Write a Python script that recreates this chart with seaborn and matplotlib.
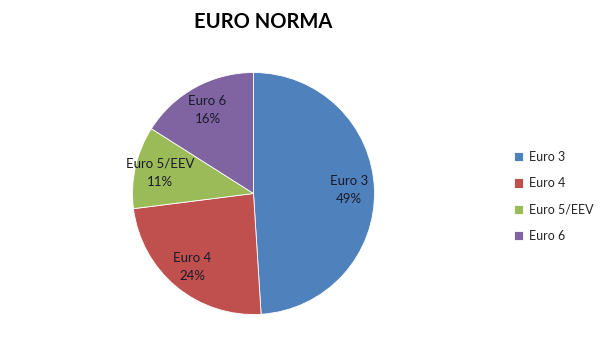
import matplotlib
matplotlib.use("Agg")
import matplotlib.pyplot as plt
import seaborn as sns
import numpy as np

categories = ["Euro 3", "Euro 4", "Euro 5/EEV", "Euro 6"]
values = [49, 24, 11, 16]
colors = ["#4F81BD", "#C0504D", "#9BBB59", "#8064A2"]
title = "EURO NORMA"

sns.set_theme(style="white")
plt.rcParams['font.family'] = ['Lato', 'DejaVu Sans']

fig = plt.figure(figsize=(6.0, 3.44), dpi=100)
W, H = 600, 344
cx, cy, r = 253.5, 193.5, 121
ax = fig.add_axes([(cx - r) / W, (H - cy - r) / H, 2 * r / W, 2 * r / H])

pal = sns.color_palette(colors)
wedges, texts = ax.pie(values, colors=pal, startangle=90, counterclock=False,
                       radius=1.0, wedgeprops=dict(edgecolor="white", linewidth=0.6))
for w, lab, v in zip(wedges, categories, values):
    ang = np.deg2rad((w.theta1 + w.theta2) / 2)
    d = 0.79
    ax.text(d * np.cos(ang), d * np.sin(ang), f"{lab}\n{v}%", ha="center", va="center",
            fontsize=9.5, color="#1a1a2a", linespacing=1.6)
ax.set_xlim(-1, 1)
ax.set_ylim(-1, 1)
ax.set_aspect("equal")
ax.axis("off")

fig.text(263 / W, 1 - 22 / H, title, ha="center", va="center", fontsize=14.5, fontweight="bold", color="black")

leg = fig.legend(wedges, categories, loc="upper left", bbox_to_anchor=(509 / W, 1 - 146 / H),
                 frameon=False, fontsize=9, handlelength=0.75, handleheight=0.75,
                 handletextpad=0.45, labelspacing=1.15, borderaxespad=0)

fig.savefig("out.png", dpi=100)
